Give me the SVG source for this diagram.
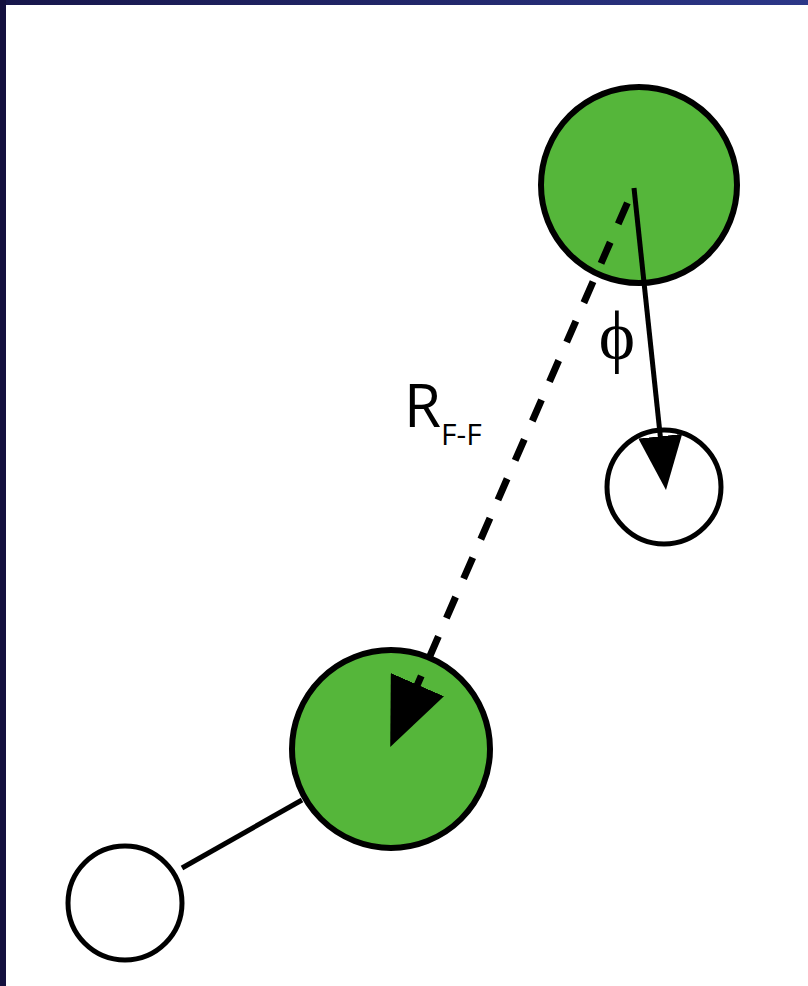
<svg xmlns="http://www.w3.org/2000/svg" width="808" height="986" viewBox="0 0 808 986">
<defs>
<linearGradient id="topbar" x1="0" y1="0" x2="1" y2="0">
<stop offset="0" stop-color="#17164a"/>
<stop offset="1" stop-color="#2c3788"/>
</linearGradient>
<marker id="headA" markerUnits="userSpaceOnUse" viewBox="0 0 54 44" refX="1" refY="22" markerWidth="54" markerHeight="44" orient="auto">
<path d="M0,0 L54,22 L0,44 z" fill="#000"/>
</marker>
<marker id="headB" markerUnits="userSpaceOnUse" viewBox="0 0 68 58" refX="1" refY="29" markerWidth="68" markerHeight="58" orient="auto">
<path d="M0,0 L68,29 L0,58 z" fill="#000"/>
</marker>
</defs>
<style>
.green{fill:#55b63a;stroke:#000;stroke-width:6}
.white{fill:#fff;stroke:#000;stroke-width:5}
.lbl{font-family:"Open Sans","Noto Sans",sans-serif;fill:#000}
</style>
<rect x="0" y="0" width="808" height="986" fill="#fff"/>
<rect x="0" y="0" width="808" height="5" fill="url(#topbar)"/>
<rect x="0" y="0" width="6" height="986" fill="#14103e"/>

<g id="connectors-back">
<line x1="182" y1="868" x2="302" y2="800" stroke="#000" stroke-width="5"/>
</g>

<g id="fluor-top">
<circle class="green" cx="639" cy="185" r="98"/>
</g>
<g id="fluor-bottom">
<circle class="green" cx="391" cy="749" r="99"/>
</g>
<g id="ring-right">
<circle class="white" cx="664" cy="487" r="57"/>
</g>
<g id="ring-left">
<circle class="white" cx="125" cy="903" r="57"/>
</g>

<g id="connectors">
<line x1="634" y1="188" x2="660.4" y2="437.3" stroke="#000" stroke-width="5" marker-end="url(#headA)"/>
<line x1="633" y1="190" x2="417" y2="685.6" stroke="#000" stroke-width="7" stroke-dasharray="23 20" stroke-dashoffset="-14" marker-end="url(#headB)"/>
</g>

<g id="labels">
<text class="lbl" x="404" y="427" font-size="60">R<tspan font-size="30" dy="18">F-F</tspan></text>
<text x="617" y="359" text-anchor="middle" font-family="Liberation Serif, serif" font-size="69" fill="#000">ϕ</text>
</g>
</svg>
